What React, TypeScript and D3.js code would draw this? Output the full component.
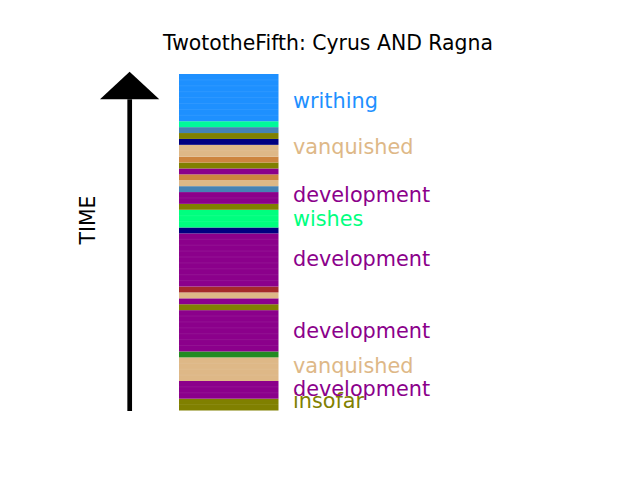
import React from 'react';
import * as d3 from 'd3';

// stacked word timeline, bottom to top
const segmentColors = [
  'olive', 'darkmagenta', 'burlywood', 'forestgreen', 'darkmagenta', 'olive', 'darkmagenta',
  'burlywood', 'brown', 'darkmagenta', 'navy', 'springgreen', 'olive', 'darkmagenta',
  'steelblue', 'burlywood', 'peru', 'darkmagenta', 'olive', 'peru', 'burlywood', 'navy',
  'olive', 'steelblue', 'mediumspringgreen', 'dodgerblue',
];
const segmentUnits = [2, 3, 4, 1, 7, 1, 1, 1, 1, 9, 1, 3, 1, 2, 1, 1, 1, 1, 1, 1, 2, 1, 1, 1, 1, 8];

const labelWords = ['insofar', 'development', 'vanquished', 'development', 'development', 'wishes', 'development', 'vanquished', 'writhing'];
const labelColors = ['olive', 'darkmagenta', 'burlywood', 'darkmagenta', 'darkmagenta', 'springgreen', 'darkmagenta', 'burlywood', 'dodgerblue'];
const labelPositions = [0.4, 2.5, 6.4, 12.3, 24.4, 31.3, 35.3, 43.4, 51.3];

const title = 'TwototheFifth: Cyrus AND Ragna';
const axisLabel = 'TIME';

const W = 640;
const H = 480;
const FONT = '"DejaVu Sans", sans-serif';

export default function App() {
  const total = d3.sum(segmentUnits);
  const y = d3.scaleLinear().domain([0, total]).range([410.5, 74]);
  const x0 = 179;
  const barW = 99.5;

  const starts = d3.cumsum([0, ...segmentUnits.slice(0, -1)]);
  // faint seams between unit blocks inside a segment
  const seams: number[] = [];
  segmentUnits.forEach((n, i) => {
    d3.range(1, n).forEach(k => seams.push(starts[i] + k));
  });

  const arrowX = 129.7;
  const headY = 99.3;

  return (
    <svg width={W} height={H} style={{ position: 'absolute', left: 0, top: 0, background: '#fff' }}>
      <text x={328} y={50} textAnchor="middle" fontFamily={FONT} fontSize={20.4} fill="#000">{title}</text>

      {segmentUnits.map((n, i) => (
        <rect key={i} x={x0} y={y(starts[i] + n)} width={barW} height={y(starts[i]) - y(starts[i] + n)} fill={segmentColors[i]} />
      ))}
      {seams.map((s, i) => (
        <line key={i} x1={x0} x2={x0 + barW} y1={y(s)} y2={y(s)} stroke="#fff" strokeOpacity={0.07} strokeWidth={1} />
      ))}

      {labelWords.map((w, i) => (
        <text key={i} x={293} y={y(labelPositions[i])} fontFamily={FONT} fontSize={20.8} fill={labelColors[i]}>{w}</text>
      ))}

      <line x1={arrowX} x2={arrowX} y1={411} y2={headY} stroke="#000" strokeWidth={4.7} />
      <path d={`M100,${headY} L159.3,${headY} L129.6,71.7 Z`} fill="#000" />

      <text transform="translate(94.5,220) rotate(-90)" textAnchor="middle" fontFamily={FONT} fontSize={20.4} fill="#000">{axisLabel}</text>
    </svg>
  );
}
